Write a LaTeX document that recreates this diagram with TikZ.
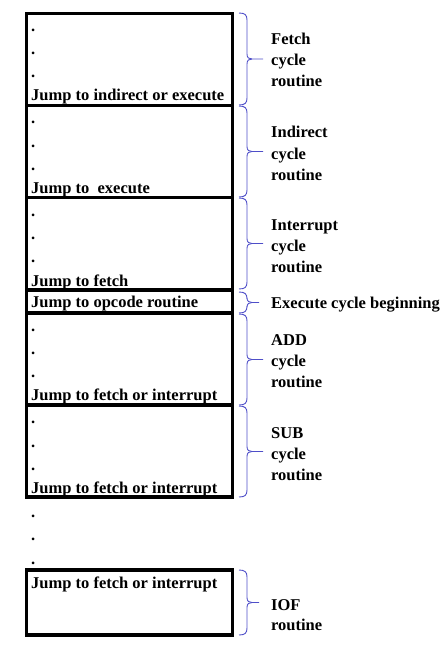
\documentclass[tikz,border=0pt]{standalone}
\usepackage{fontspec}
\setmainfont{Liberation Serif}
\definecolor{bracecol}{RGB}{78,78,200}
\tikzset{
  box/.style={draw=black,line width=3.1pt,inner sep=0pt,outer sep=0pt,minimum width=206pt,anchor=north west},
  txt/.style={font=\bfseries\fontsize{16.5}{21}\selectfont,anchor=base west,inner sep=0pt},
  brc/.style={draw=bracecol,line width=0.9pt}
}
\newcommand\mybrace[3]{% top, bottom, tip length
  \draw[brc] (239,#1) .. controls (245,#1) and (247,#1+2) .. (247,#1+7)
     -- (247,{(#1+#2)/2-5}) .. controls (247,{(#1+#2)/2-1}) and (249,{(#1+#2)/2}) .. (252,{(#1+#2)/2}) -- (247+#3,{(#1+#2)/2});
  \draw[brc] (239,#2) .. controls (245,#2) and (247,#2-2) .. (247,#2-7)
     -- (247,{(#1+#2)/2+5}) .. controls (247,{(#1+#2)/2+1}) and (249,{(#1+#2)/2}) .. (252,{(#1+#2)/2});
}
\begin{document}
\begin{tikzpicture}[x=1pt,y=-1pt]
\useasboundingbox (0,0) rectangle (447,650);
% boxes
\node[box,minimum height=92pt] (fetch) at (26.5,13.5) {};
\node[box,minimum height=92pt] (indirect) at (26.5,105.5) {};
\node[box,minimum height=92.5pt] (interrupt) at (26.5,197.5) {};
\node[box,minimum height=23pt] (opcode) at (26.5,290) {};
\node[box,minimum height=92pt] (add) at (26.5,313) {};
\node[box,minimum height=92pt] (sub) at (26.5,405) {};
\node[box,minimum height=65pt] (iof) at (26.5,570) {};
% dots
\foreach \n/\y in {f1/32,f2/55,f3/78, i1/124,i2/147,i3/170, n1/216,n2/239,n3/262, a1/331,a2/354,a3/377, s1/423,s2/447,s3/470, o1/517,o2/540,o3/564}
  \node[txt] (dot\n) at (31,\y) {.};
% box texts
\node[txt] (tf) at (31,100.5) {Jump to indirect or execute};
\node[txt] (ti) at (31,193) {Jump to\ \ execute};
\node[txt] (tn) at (31,286) {Jump to fetch};
\node[txt] (to) at (31,307.5) {Jump to opcode routine};
\node[txt] (ta) at (31,400.5) {Jump to fetch or interrupt};
\node[txt] (ts) at (31,493) {Jump to fetch or interrupt};
\node[txt] (tx) at (31,588) {Jump to fetch or interrupt};
% braces
\mybrace{13}{105}{16}
\mybrace{106}{197}{16}
\mybrace{198}{289}{16}
\mybrace{292}{313}{12}
\mybrace{314}{405}{16}
\mybrace{406}{497}{16}
\mybrace{570}{635}{12}
% right labels
\node[txt] (l1a) at (271,45) {Fetch};
\node[txt] (l1b) at (271,66) {cycle};
\node[txt] (l1c) at (271,87) {routine};
\node[txt] (l2a) at (271,138) {Indirect};
\node[txt] (l2b) at (271,159) {cycle};
\node[txt] (l2c) at (271,180) {routine};
\node[txt] (l3a) at (271,230) {Interrupt};
\node[txt] (l3b) at (271,251) {cycle};
\node[txt] (l3c) at (271,272) {routine};
\node[txt] (l4) at (271,308) {Execute cycle beginning};
\node[txt] (l5a) at (271,345) {ADD};
\node[txt] (l5b) at (271,366) {cycle};
\node[txt] (l5c) at (271,387) {routine};
\node[txt] (l6a) at (271,438) {SUB};
\node[txt] (l6b) at (271,459) {cycle};
\node[txt] (l6c) at (271,480) {routine};
\node[txt] (l7a) at (271,610) {IOF};
\node[txt] (l7b) at (271,630) {routine};
\end{tikzpicture}
\end{document}
